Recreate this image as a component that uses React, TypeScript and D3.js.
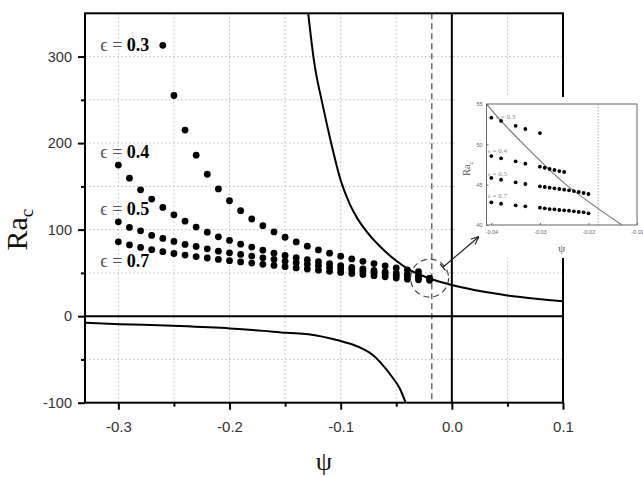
import * as d3 from "d3";
import { useEffect, useRef } from "react";

// critical Rayleigh number against psi, one dotted series per epsilon
const psiEps03 = [-0.26, -0.25, -0.24, -0.23, -0.22, -0.21, -0.2, -0.19, -0.18, -0.17, -0.16, -0.15, -0.14, -0.13, -0.12, -0.11, -0.1, -0.09, -0.08, -0.07, -0.06, -0.05, -0.04, -0.03];
const raEps03 = [313, 255, 215, 186, 164, 147, 133.4, 121.9, 112.3, 104.6, 97.4, 91.2, 85.8, 80.9, 76.6, 72.8, 69.3, 66.2, 63.4, 60.8, 58.2, 55.8, 53.5, 51.4];

const psiEps04 = [-0.3, -0.29, -0.28, -0.27, -0.26, -0.25, -0.24, -0.23, -0.22, -0.21, -0.2, -0.19, -0.18, -0.17, -0.16, -0.15, -0.14, -0.13, -0.12, -0.11, -0.1, -0.09, -0.08, -0.07, -0.06, -0.05, -0.04, -0.03];
const raEps04 = [174.6, 159.5, 146, 135.3, 125.7, 117.1, 109.8, 102.9, 97.1, 91.7, 87.5, 83.2, 79.8, 76.3, 72.8, 70.1, 67.6, 65.2, 62.9, 60.6, 58.5, 56.5, 54.6, 52.9, 51.3, 49.8, 48.5, 47.2];

const psiEps05 = [-0.3, -0.29, -0.28, -0.27, -0.26, -0.25, -0.24, -0.23, -0.22, -0.21, -0.2, -0.19, -0.18, -0.17, -0.16, -0.15, -0.14, -0.13, -0.12, -0.11, -0.1, -0.09, -0.08, -0.07, -0.06, -0.05, -0.04, -0.03, -0.02];
const raEps05 = [109, 102.5, 98.6, 93.3, 89.8, 86.4, 82.9, 80.6, 77.8, 75.1, 73.2, 71.3, 69.4, 67.4, 65.5, 63.6, 61.8, 60, 58.3, 56.6, 54.9, 53.3, 51.7, 50.2, 48.7, 47.2, 45.8, 44.8, 43.8];

const psiEps07 = [-0.3, -0.29, -0.28, -0.27, -0.26, -0.25, -0.24, -0.23, -0.22, -0.21, -0.2, -0.19, -0.18, -0.17, -0.16, -0.15, -0.14, -0.13, -0.12, -0.11, -0.1, -0.09, -0.08, -0.07, -0.06, -0.05, -0.04, -0.03, -0.02];
const raEps07 = [85.9, 82.3, 79.4, 76.8, 74.5, 72.4, 70.6, 68.9, 67.2, 65.6, 64.1, 62.7, 61.3, 59.9, 58.6, 57.2, 55.8, 54.5, 53.2, 51.9, 50.6, 49.3, 48.1, 46.8, 45.5, 44.1, 42.8, 42.1, 41.5];

const epsLabels = ["0.3", "0.4", "0.5", "0.7"];
const epsLabelRa = [307, 183, 117, 57];

// neutral curves
const upperPsi = [-0.1292, -0.124, -0.116, -0.108, -0.1, -0.092, -0.085, -0.078, -0.065, -0.05, -0.04, -0.02, 0, 0.05, 0.1];
const upperRa = [350, 295, 243, 197, 157, 130, 113, 100, 81, 64, 55, 43.6, 36, 24, 17.3];
const lowerPsi = [-0.33, -0.2986, -0.2506, -0.1996, -0.1697, -0.1487, -0.129, -0.1007, -0.0888, -0.0797, -0.0708, -0.0647, -0.0527, -0.0468, -0.0416];
const lowerRa = [-7.7, -9.2, -11.2, -14.2, -17, -19.3, -20.8, -28.5, -33, -38, -45.1, -52.8, -72, -83.6, -100];

const xTicks = [-0.3, -0.2, -0.1, 0, 0.1];
const xMinorTicks = [-0.25, -0.15, -0.05, 0.05];
const yTicks = [-100, 0, 100, 200, 300];
const yMinorTicks = [-50, 50, 150, 250];
const xGrid = [-0.3, -0.25, -0.2, -0.15, -0.1, -0.05, 0.05];
const yGrid = [-50, 50, 100, 150, 200, 250, 300];
const psiMarker = -0.018;

// zoomed view around psi = -0.04 .. -0.02
const insetPsiA = [-0.04, -0.038, -0.035, -0.033, -0.03];
const insetPsiB = [-0.04, -0.038, -0.035, -0.033, -0.03, -0.029, -0.028, -0.027, -0.026, -0.025];
const insetPsiC = [-0.04, -0.038, -0.035, -0.033, -0.03, -0.029, -0.028, -0.027, -0.026, -0.025, -0.024, -0.023, -0.022, -0.021, -0.02];
const insetRa03 = [53.3, 52.9, 52.3, 51.9, 51.4];
const insetRa04 = [48.55, 48.26, 47.89, 47.6, 47.23, 47.1, 46.94, 46.82, 46.69, 46.57];
const insetRa05 = [45.83, 45.62, 45.29, 45.08, 44.79, 44.71, 44.63, 44.55, 44.46, 44.38, 44.3, 44.21, 44.09, 43.97, 43.84];
const insetRa07 = [42.81, 42.64, 42.44, 42.31, 42.15, 42.07, 41.98, 41.94, 41.86, 41.82, 41.78, 41.69, 41.61, 41.57, 41.45];
const insetCurvePsi = [-0.041, -0.038, -0.034, -0.03, -0.025, -0.02, -0.0131];
const insetCurveRa = [55, 52.9, 50.4, 48, 45.2, 42.9, 40];
const insetXTicks = [-0.04, -0.03, -0.02, -0.01];
const insetYTicks = [40, 45, 50, 55];
const insetLabelPsi = [-0.039, -0.0407, -0.0407, -0.0407];
const insetLabelRa = [53.1, 48.9, 46.1, 43.4];

const sans = "'Liberation Sans', Arial, Helvetica, sans-serif";
const serif = "'Liberation Serif', 'DejaVu Serif', 'Times New Roman', serif";

const App = () => {
  const svgRef = useRef<SVGSVGElement>(null);

  useEffect(() => {
    if (!svgRef.current) return;
    const svg = d3.select(svgRef.current);
    svg.selectAll("*").remove();

    const x = d3.scaleLinear().domain([-0.33, 0.1]).range([85, 563]);
    const y = d3.scaleLinear().domain([-100, 350]).range([402.7, 13.3]);
    const [xL, xR] = x.range();
    const [yB, yT] = y.range();

    // dotted grid
    const grid = svg
      .append("g")
      .attr("stroke", "#bdbdbd")
      .attr("stroke-width", 1)
      .attr("stroke-dasharray", "1.5,2.5");
    grid
      .selectAll("line.gx")
      .data(xGrid)
      .join("line")
      .attr("x1", (d) => x(d))
      .attr("x2", (d) => x(d))
      .attr("y1", yT)
      .attr("y2", yB);
    grid
      .selectAll("line.gy")
      .data(yGrid)
      .join("line")
      .attr("x1", xL)
      .attr("x2", xR)
      .attr("y1", (d) => y(d))
      .attr("y2", (d) => y(d));

    // dashed marker at psi = -0.018
    svg
      .append("line")
      .attr("x1", x(psiMarker))
      .attr("x2", x(psiMarker))
      .attr("y1", yT)
      .attr("y2", yB)
      .attr("stroke", "#444")
      .attr("stroke-width", 1.2)
      .attr("stroke-dasharray", "6,4");

    // Ra = 0 and psi = 0 lines
    svg
      .append("line")
      .attr("x1", xL)
      .attr("x2", xR)
      .attr("y1", y(0))
      .attr("y2", y(0))
      .attr("stroke", "#000")
      .attr("stroke-width", 2);
    svg
      .append("line")
      .attr("x1", x(0))
      .attr("x2", x(0))
      .attr("y1", yT)
      .attr("y2", yB)
      .attr("stroke", "#000")
      .attr("stroke-width", 2);

    // curves
    svg
      .append("clipPath")
      .attr("id", "plot-clip")
      .append("rect")
      .attr("x", xL)
      .attr("y", yT)
      .attr("width", xR - xL)
      .attr("height", yB - yT);
    const line = d3
      .line<[number, number]>()
      .x((d) => x(d[0]))
      .y((d) => y(d[1]))
      .curve(d3.curveMonotoneX);
    const curves = [d3.zip(upperPsi, upperRa), d3.zip(lowerPsi, lowerRa)];
    svg
      .append("g")
      .attr("clip-path", "url(#plot-clip)")
      .selectAll("path")
      .data(curves)
      .join("path")
      .attr("d", (d) => line(d as [number, number][]))
      .attr("fill", "none")
      .attr("stroke", "#000")
      .attr("stroke-width", 2);

    // data points
    const points = [
      ...d3.zip(psiEps03, raEps03),
      ...d3.zip(psiEps04, raEps04),
      ...d3.zip(psiEps05, raEps05),
      ...d3.zip(psiEps07, raEps07),
    ];
    svg
      .append("g")
      .selectAll("circle")
      .data(points)
      .join("circle")
      .attr("cx", (d) => x(d[0]))
      .attr("cy", (d) => y(d[1]))
      .attr("r", 3.4)
      .attr("fill", "#000");

    // epsilon labels
    const lab = svg
      .append("g")
      .selectAll("text")
      .data(epsLabels)
      .join("text")
      .attr("x", x(-0.3) - 18)
      .attr("y", (_, i) => y(epsLabelRa[i]))
      .attr("font-family", serif)
      .attr("font-size", 18);
    lab.append("tspan").attr("fill", "#555").text("\u03f5 = ");
    lab
      .append("tspan")
      .attr("font-weight", "bold")
      .attr("fill", "#000")
      .text((d) => d);

    // frame
    svg
      .append("rect")
      .attr("x", xL)
      .attr("y", yT)
      .attr("width", xR - xL)
      .attr("height", yB - yT)
      .attr("fill", "none")
      .attr("stroke", "#000")
      .attr("stroke-width", 2);

    // axes
    const styleAxis = (g: d3.Selection<SVGGElement, unknown, null, undefined>) => {
      g.select(".domain").remove();
      g.selectAll("line").attr("stroke", "#000").attr("stroke-width", 2);
      g.selectAll("text")
        .attr("font-family", sans)
        .attr("fill", "#333");
    };
    svg
      .append("g")
      .attr("transform", `translate(0,${yB})`)
      .call(
        d3
          .axisBottom(x)
          .tickValues(xTicks)
          .tickSize(7)
          .tickPadding(12)
          .tickFormat((d) => (d as number).toFixed(1))
      )
      .call(styleAxis)
      .call((g) => g.selectAll("text").attr("font-size", 15));
    svg
      .append("g")
      .attr("transform", `translate(0,${yB})`)
      .call(d3.axisBottom(x).tickValues(xMinorTicks).tickSize(4).tickFormat(() => ""))
      .call(styleAxis);
    svg
      .append("g")
      .attr("transform", `translate(${xL},0)`)
      .call(
        d3
          .axisLeft(y)
          .tickValues(yTicks)
          .tickSize(7)
          .tickPadding(6)
          .tickFormat((d) => String(d))
      )
      .call(styleAxis)
      .call((g) => g.selectAll("text").attr("font-size", 14.5));
    svg
      .append("g")
      .attr("transform", `translate(${xL},0)`)
      .call(d3.axisLeft(y).tickValues(yMinorTicks).tickSize(4).tickFormat(() => ""))
      .call(styleAxis);

    // axis titles
    const ra = svg
      .append("text")
      .attr("transform", `translate(27,${y(100)}) rotate(-90)`)
      .attr("text-anchor", "middle")
      .attr("font-family", serif)
      .attr("font-size", 30)
      .attr("fill", "#111");
    ra.append("tspan").text("Ra");
    ra.append("tspan").attr("font-size", 19).attr("dy", 6).text("c");
    svg
      .append("text")
      .attr("x", (xL + xR) / 2)
      .attr("y", 470)
      .attr("text-anchor", "middle")
      .attr("font-family", serif)
      .attr("font-size", 26)
      .attr("fill", "#111")
      .text("\u03c8");

    // zoom circle and arrow
    const cx = x(-0.02);
    const cy = y(44);
    const rr = 19;
    svg
      .append("circle")
      .attr("cx", cx)
      .attr("cy", cy)
      .attr("r", rr)
      .attr("fill", "none")
      .attr("stroke", "#444")
      .attr("stroke-width", 1.2)
      .attr("stroke-dasharray", "6,4");

    // inset
    const ix = d3.scaleLinear().domain([-0.041, -0.01]).range([486.5, 637]);
    const iy = d3.scaleLinear().domain([40, 55]).range([225, 104]);
    const inset = svg.append("g");
    inset
      .append("rect")
      .attr("x", 455)
      .attr("y", 97)
      .attr("width", 188)
      .attr("height", 161)
      .attr("fill", "#fff");
    inset
      .append("line")
      .attr("x1", ix(psiMarker))
      .attr("x2", ix(psiMarker))
      .attr("y1", iy(55))
      .attr("y2", iy(40))
      .attr("stroke", "#aaa")
      .attr("stroke-width", 1)
      .attr("stroke-dasharray", "1.5,1.5");
    inset
      .append("defs")
      .append("clipPath")
      .attr("id", "inset-clip")
      .append("rect")
      .attr("x", ix.range()[0])
      .attr("y", iy.range()[1])
      .attr("width", ix.range()[1] - ix.range()[0])
      .attr("height", iy.range()[0] - iy.range()[1]);
    const iline = d3
      .line<[number, number]>()
      .x((d) => ix(d[0]))
      .y((d) => iy(d[1]))
      .curve(d3.curveMonotoneX);
    inset
      .append("path")
      .attr("clip-path", "url(#inset-clip)")
      .attr("d", iline(d3.zip(insetCurvePsi, insetCurveRa) as [number, number][]))
      .attr("fill", "none")
      .attr("stroke", "#777")
      .attr("stroke-width", 1.1);
    const insetPoints = [
      ...d3.zip(insetPsiA, insetRa03),
      ...d3.zip(insetPsiB, insetRa04),
      ...d3.zip(insetPsiC, insetRa05),
      ...d3.zip(insetPsiC, insetRa07),
    ];
    inset
      .append("g")
      .selectAll("circle")
      .data(insetPoints)
      .join("circle")
      .attr("cx", (d) => ix(d[0]))
      .attr("cy", (d) => iy(d[1]))
      .attr("r", 1.9)
      .attr("fill", "#000");
    inset
      .append("rect")
      .attr("x", ix.range()[0])
      .attr("y", iy.range()[1])
      .attr("width", ix.range()[1] - ix.range()[0])
      .attr("height", iy.range()[0] - iy.range()[1])
      .attr("fill", "none")
      .attr("stroke", "#666")
      .attr("stroke-width", 1);
    inset
      .append("g")
      .selectAll("text")
      .data(epsLabels)
      .join("text")
      .attr("x", (_, i) => ix(insetLabelPsi[i]))
      .attr("y", (_, i) => iy(insetLabelRa[i]))
      .attr("font-family", serif)
      .attr("font-size", 7)
      .attr("fill", "#888")
      .text((d) => `\u03f5 = ${d}`);
    const iax = inset
      .append("g")
      .attr("transform", `translate(0,${iy.range()[0]})`)
      .call(d3.axisBottom(ix).tickValues(insetXTicks).tickSize(-2).tickPadding(5).tickFormat((d) => (d as number).toFixed(2)));
    iax.select(".domain").remove();
    iax.selectAll("line").attr("stroke", "#666");
    iax.selectAll("text").attr("font-family", sans).attr("font-size", 5.5).attr("fill", "#666");
    const iay = inset
      .append("g")
      .attr("transform", `translate(${ix.range()[0]},0)`)
      .call(d3.axisLeft(iy).tickValues(insetYTicks).tickSize(-2).tickPadding(4).tickFormat((d) => String(d)));
    iay.select(".domain").remove();
    iay.selectAll("line").attr("stroke", "#666");
    iay.selectAll("text").attr("font-family", sans).attr("font-size", 5.5).attr("fill", "#666");
    const ira = inset
      .append("text")
      .attr("transform", `translate(470,${iy(47)}) rotate(-90)`)
      .attr("text-anchor", "middle")
      .attr("font-family", serif)
      .attr("font-size", 10)
      .attr("fill", "#555");
    ira.append("tspan").text("Ra");
    ira.append("tspan").attr("font-size", 7).attr("dy", 2.5).text("c");
    inset
      .append("text")
      .attr("x", (ix.range()[0] + ix.range()[1]) / 2)
      .attr("y", 252)
      .attr("text-anchor", "middle")
      .attr("font-family", serif)
      .attr("font-size", 11)
      .attr("fill", "#555")
      .text("\u03c8");

    // arrow from the circle to the inset
    const ang = -Math.PI / 4.6;
    const sx = cx + rr * Math.cos(ang) * 0.9;
    const sy = cy + rr * Math.sin(ang) * 0.9;
    const ex = ix.range()[0] - 8;
    const ey = iy.range()[0] + 12;
    svg
      .append("defs")
      .append("marker")
      .attr("id", "arrow-head")
      .attr("viewBox", "0 0 10 10")
      .attr("refX", 9)
      .attr("refY", 5)
      .attr("markerWidth", 7)
      .attr("markerHeight", 7)
      .attr("orient", "auto")
      .append("path")
      .attr("d", "M0,1 L10,5 L0,9")
      .attr("fill", "none")
      .attr("stroke", "#222")
      .attr("stroke-width", 1.3);
    svg
      .append("line")
      .attr("x1", sx)
      .attr("y1", sy)
      .attr("x2", ex)
      .attr("y2", ey)
      .attr("stroke", "#222")
      .attr("stroke-width", 1.2)
      .attr("marker-end", "url(#arrow-head)");
    const dx = ex - sx;
    const dy = ey - sy;
    const len = Math.hypot(dx, dy);
    const nx = (-dy / len) * 4;
    const ny = (dx / len) * 4;
    svg
      .append("line")
      .attr("x1", sx - nx)
      .attr("y1", sy - ny)
      .attr("x2", sx + nx)
      .attr("y2", sy + ny)
      .attr("stroke", "#222")
      .attr("stroke-width", 1.2);
  }, []);

  return (
    <svg
      ref={svgRef}
      width={643}
      height={477}
      style={{ position: "absolute", left: 0, top: 0, background: "#fff" }}
    />
  );
};

export default App;
